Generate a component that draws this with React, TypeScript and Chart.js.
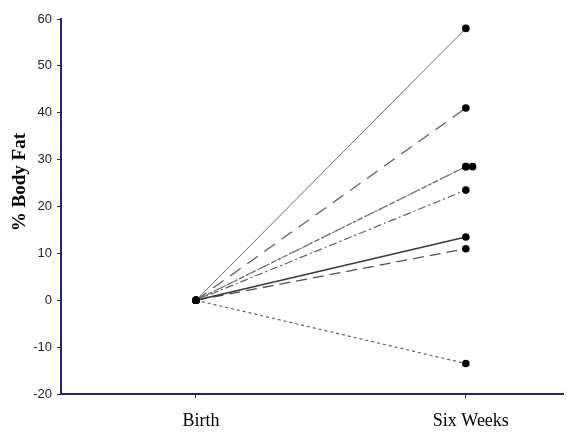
import React, { useEffect, useRef } from "react";
import { Chart, registerables } from "chart.js";

Chart.register(...registerables);

const categories = ["Birth", "Six Weeks"];
const birthValues = [0, 0, 0, 0, 0, 0, 0, 0];
const sixWeekValues = [58, 41, 28.5, 28.5, 23.5, 13.5, 11, -13.5];
const duplicateMarkerX = [1.025];
const duplicateMarkerY = [28.5];
const yTickValues = [-20, -10, 0, 10, 20, 30, 40, 50, 60];
const yTitle = "% Body Fat";

const lineDashes: number[][] = [
  [],
  [13, 8],
  [6, 2, 2, 2],
  [4, 3],
  [8, 3, 2, 3],
  [],
  [11, 6],
  [3, 3],
];
const lineColors = ["#6a6a6a", "#5a5a5a", "#707070", "#808080", "#606060", "#3a3a3a", "#505050", "#606060"];
const lineWidths = [1, 1.2, 1.2, 1.2, 1.2, 1.5, 1.3, 1.2];
const AXIS = "#23237a";

export default function App() {
  const ref = useRef<HTMLCanvasElement | null>(null);
  useEffect(() => {
    if (!ref.current) return;
    const datasets: any[] = sixWeekValues.map((v, i) => ({
      type: "line",
      data: [
        { x: 0, y: birthValues[i] },
        { x: 1, y: v },
      ],
      borderColor: lineColors[i],
      borderWidth: lineWidths[i],
      borderDash: lineDashes[i],
      pointRadius: 3.8,
      pointBackgroundColor: "#000",
      pointBorderColor: "#000",
      pointBorderWidth: 0,
      showLine: true,
      fill: false,
    }));
    datasets.push({
      type: "scatter",
      data: duplicateMarkerX.map((x, i) => ({ x, y: duplicateMarkerY[i] })),
      pointRadius: 3.8,
      pointBackgroundColor: "#000",
      pointBorderColor: "#000",
      pointBorderWidth: 0,
      showLine: false,
    });

    const titlePlugin = {
      id: "yTitle",
      afterDraw(chart: any) {
        const ctx = chart.ctx;
        const area = chart.chartArea;
        ctx.save();
        ctx.translate(20, area.top + (area.bottom - area.top) * 0.435);
        ctx.rotate(-Math.PI / 2);
        ctx.font = "bold 19px 'Liberation Serif', 'Times New Roman', serif";
        ctx.fillStyle = "#000";
        ctx.textAlign = "center";
        ctx.textBaseline = "middle";
        ctx.fillText(yTitle, 0, 0);
        ctx.restore();
      },
    };

    const chart = new Chart(ref.current, {
      type: "scatter",
      data: { datasets },
      plugins: [titlePlugin],
      options: {
        animation: false,
        responsive: true,
        maintainAspectRatio: false,
        layout: { padding: { top: 19, right: 0, left: 0, bottom: 0 } },
        plugins: { legend: { display: false }, tooltip: { enabled: false } },
        scales: {
          x: {
            type: "linear",
            min: -0.5,
            max: 1.36,
            afterBuildTicks: (scale: any) => {
              scale.ticks = categories.map((_, i) => ({ value: i }));
            },
            afterFit: (scale: any) => {
              scale.height = 39;
            },
            ticks: {
              callback: (v: any) => categories[Math.round(Number(v))] ?? "",
              font: { family: "'Liberation Serif', 'Times New Roman', serif", size: 18 },
              color: "#000",
              padding: 12,
              labelOffset: 5,
              maxRotation: 0,
              autoSkip: false,
            },
            grid: { drawOnChartArea: false, drawTicks: true, tickLength: 4, color: AXIS, lineWidth: 1 },
            border: { color: AXIS, width: 2 },
          },
          y: {
            type: "linear",
            min: -20,
            max: 60,
            afterBuildTicks: (scale: any) => {
              scale.ticks = yTickValues.map((v) => ({ value: v }));
            },
            afterFit: (scale: any) => {
              scale.width = 61;
            },
            ticks: {
              font: { family: "'Liberation Sans', Arial, sans-serif", size: 13 },
              color: "#222",
              padding: 5,
            },
            grid: { drawOnChartArea: false, drawTicks: true, tickLength: 4, color: AXIS, lineWidth: 1 },
            border: { color: AXIS, width: 2 },
          },
        },
      },
    });
    return () => chart.destroy();
  }, []);
  return (
    <div style={{ position: "fixed", left: 0, top: 0, width: 567, height: 433, background: "#fff" }}>
      <canvas ref={ref} />
    </div>
  );
}
